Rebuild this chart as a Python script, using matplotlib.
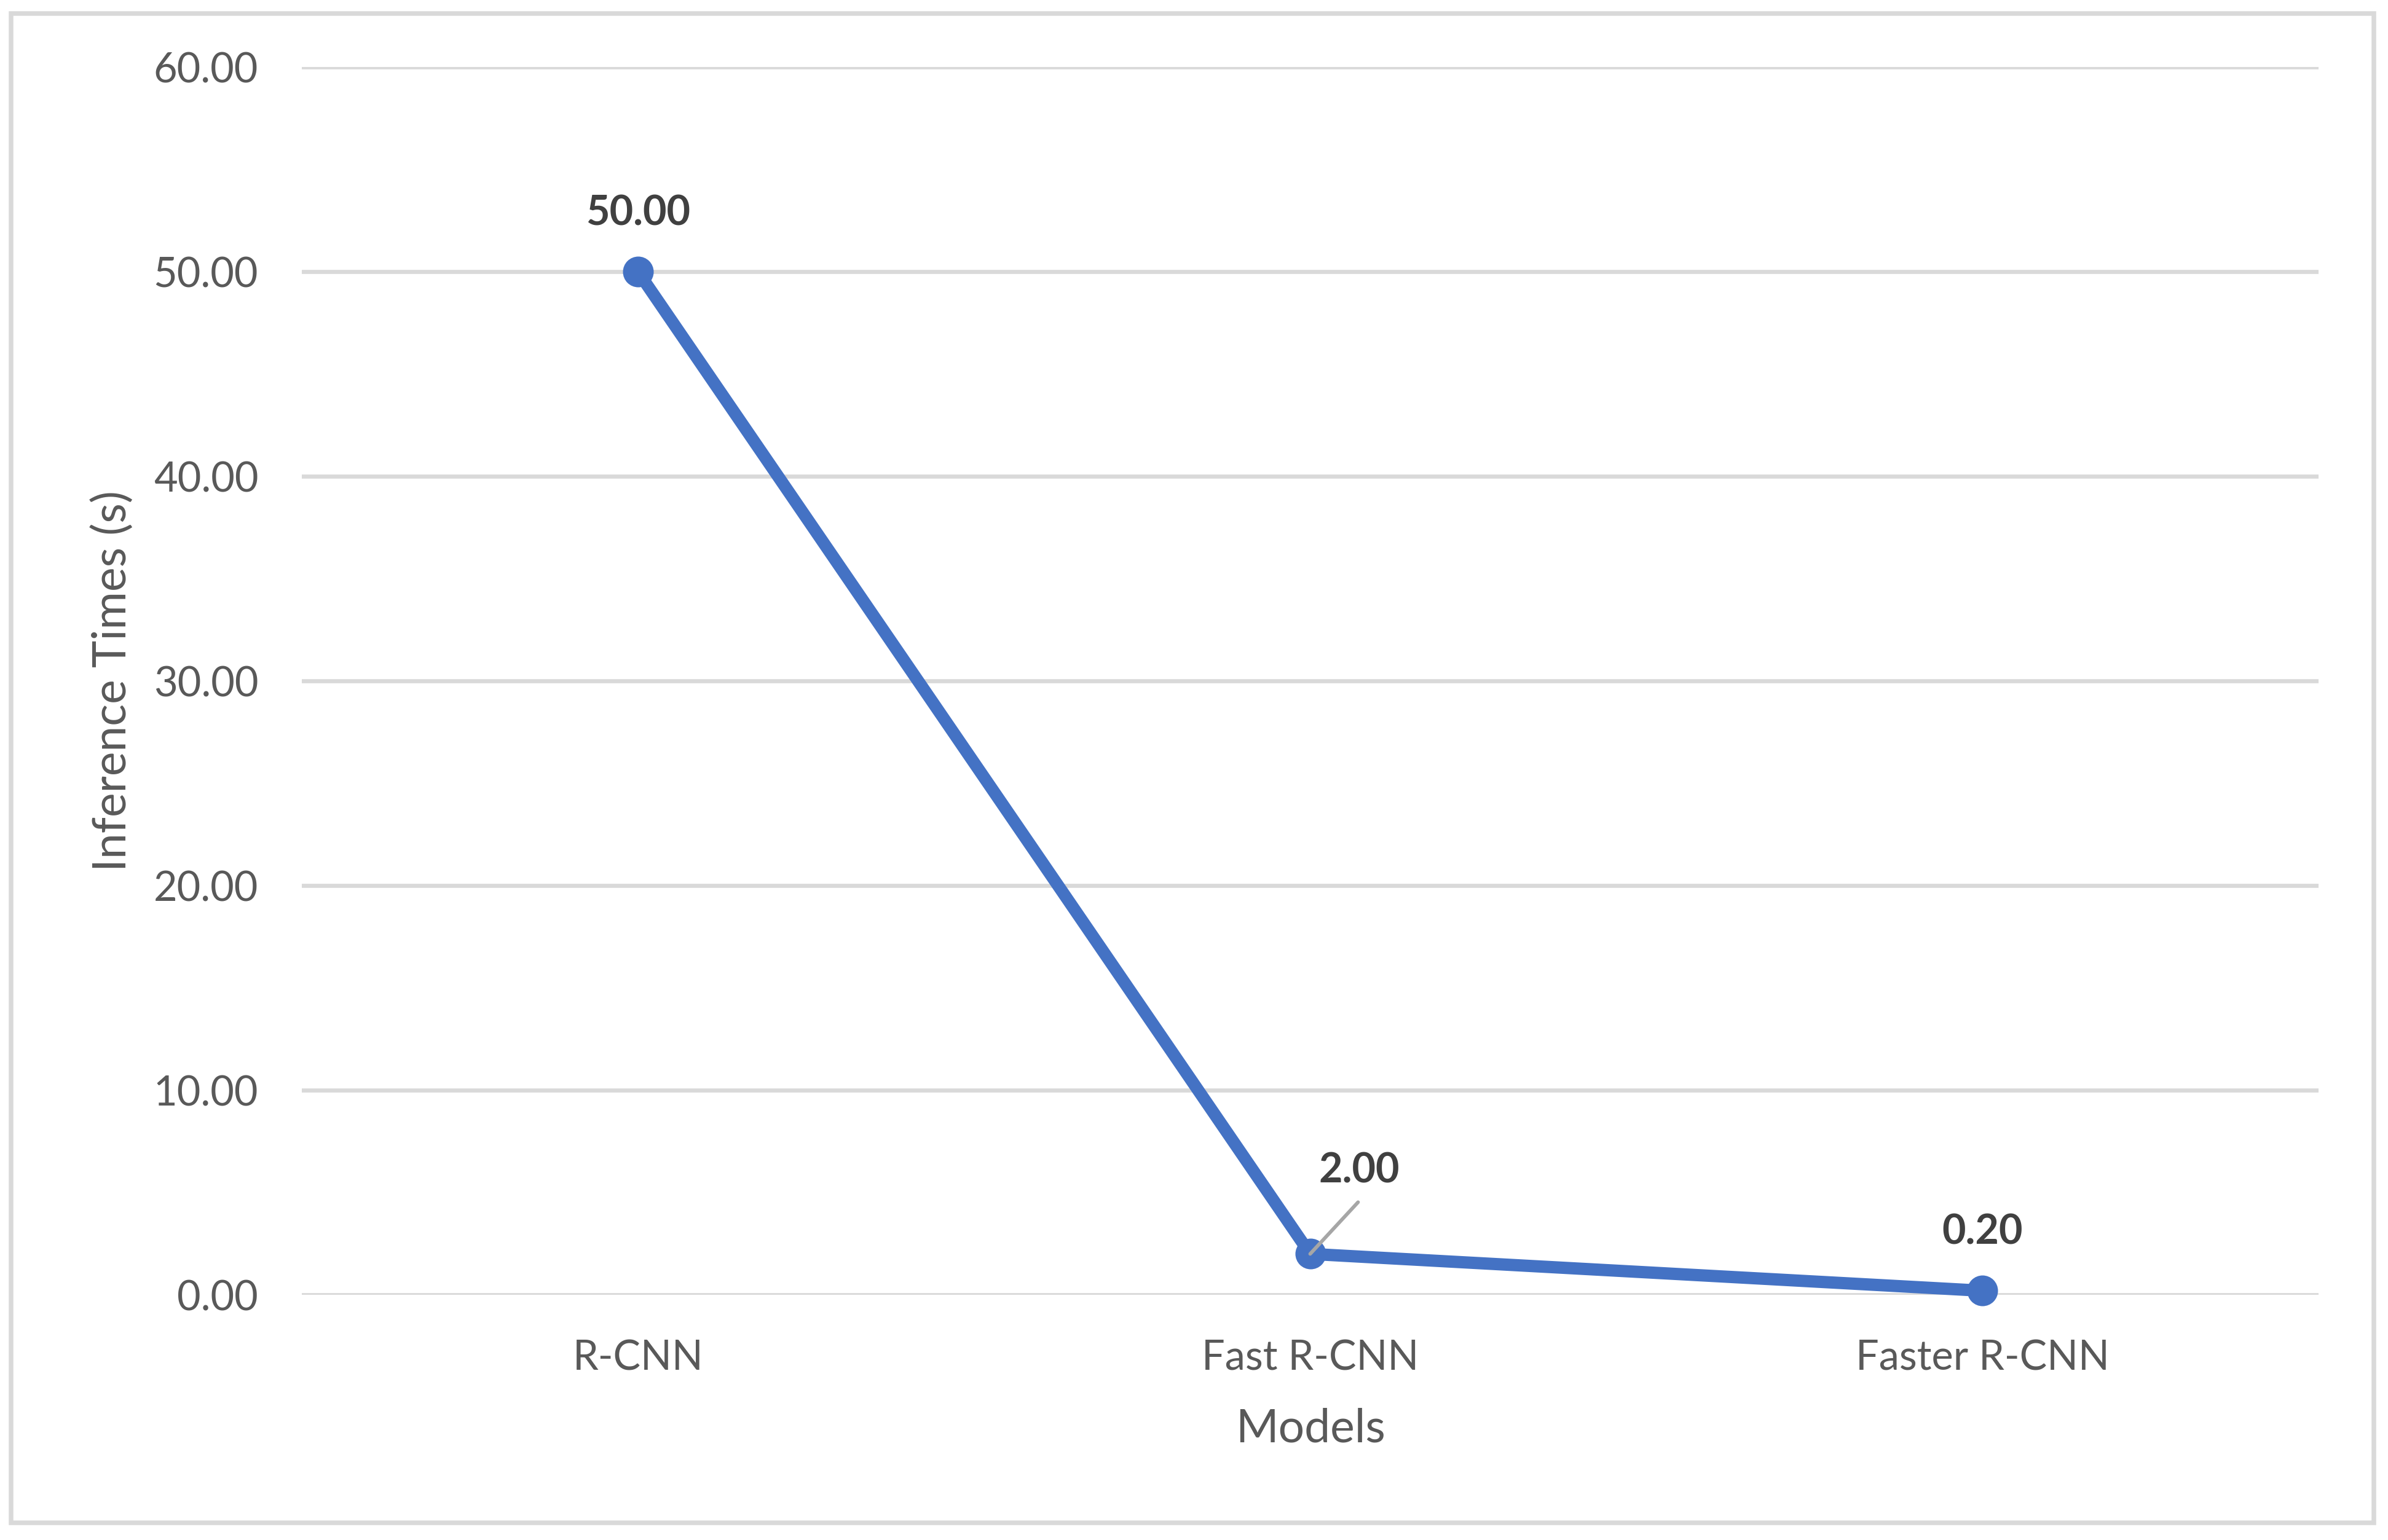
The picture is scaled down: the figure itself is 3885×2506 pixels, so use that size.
import matplotlib.pyplot as plt
from matplotlib.patches import Rectangle

# chart data
models = ['R-CNN', 'Fast R-CNN', 'Faster R-CNN']
inference_times = [50.00, 2.00, 0.20]
y_ticks = [0, 10, 20, 30, 40, 50, 60]

plt.rcParams['font.family'] = ['Lato', 'DejaVu Sans']

fig = plt.figure(figsize=(3885 / 300, 2506 / 300), dpi=300)
ax = fig.add_axes([0.1264, 0.1592, 0.8445, 0.7973])

x = list(range(len(models)))
ax.plot(x, inference_times, color='#4472C4', lw=4.8, marker='o', markersize=11,
        solid_capstyle='round', zorder=3, clip_on=False)

# data labels (the middle one was dragged aside with a leader line in the original)
for i, v in enumerate(inference_times):
    if i == 1:
        ax.annotate('', xy=(i, v), xytext=(18.7, 20.2), textcoords='offset points',
                    arrowprops=dict(arrowstyle='-', color='#A6A6A6', lw=1.4,
                                    shrinkA=0, shrinkB=0), zorder=4)
        offset = (19.2, 32.4)
    else:
        offset = (0, 22.8)
    ax.annotate(f'{v:.2f}', xy=(i, v), xytext=offset, textcoords='offset points',
                ha='center', va='center', fontsize=16, fontweight='bold', color='#404040')

ax.set_xlim(-0.5, len(models) - 0.5)
ax.set_ylim(0, 60)
ax.set_xticks(x)
ax.set_xticklabels(models)
ax.set_yticks(y_ticks)
ax.set_yticklabels([f'{t:.2f}' for t in y_ticks])
ax.tick_params(axis='both', length=0, labelsize=16, labelcolor='#595959')
ax.tick_params(axis='y', pad=17)
ax.tick_params(axis='x', pad=17.5)

ax.grid(axis='y', color='#D9D9D9', lw=1.6, zorder=0)
ax.set_axisbelow(True)
for s in ax.spines.values():
    s.set_visible(False)

ax.set_xlabel('Models', fontsize=18, color='#595959')
ax.set_ylabel('Inference Times (s)', fontsize=18, color='#595959')
ax.xaxis.set_label_coords(0.5, -0.109)
ax.xaxis.label.set_va('center')
ax.yaxis.set_label_coords(-0.0939, 0.5)
ax.yaxis.label.set_va('center')

# chart area border
fig.patches.append(Rectangle((0.0046, 0.0112), 0.9895, 0.98, transform=fig.transFigure,
                             fill=False, edgecolor='#D9D9D9', lw=1.8))

fig.savefig('out.png', dpi=300, facecolor='white')
